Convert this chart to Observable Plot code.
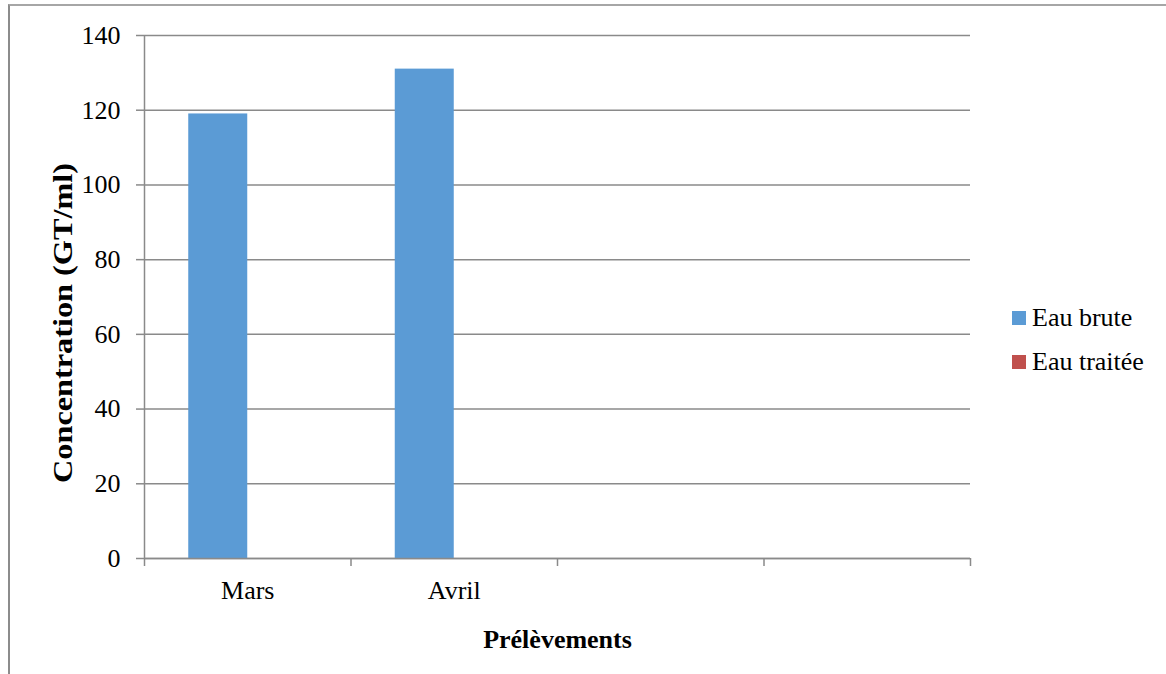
<!DOCTYPE html>
<html>
<head>
<meta charset="utf-8">
<script src="https://cdn.jsdelivr.net/npm/d3@7"></script>
<script src="https://cdn.jsdelivr.net/npm/@observablehq/plot@0.6"></script>
<style>
  html, body { margin: 0; padding: 0; background: #fff; overflow: hidden; }
  #chart { position: relative; width: 1166px; height: 674px; font-family: "Liberation Serif", "Times New Roman", serif; }
  #chart svg { position: absolute; left: 0; top: 0; }
  .border { position: absolute; left: 8px; top: 4px; width: 2000px; height: 2000px;
            border-top: 2px solid #a6a6a6; border-left: 2px solid #8c8c8c; }
  .legend { position: absolute; left: 1012px; top: 296px; font-size: 26px; color: #000; }
  .legend .item { display: flex; align-items: center; height: 44px; }
  .legend .sw { width: 14px; height: 14px; margin-right: 6px; flex: none; }
</style>
</head>
<body>
<div id="chart"><div class="border"></div></div>
<script>
// Monthly samples (the last two are empty slots on the axis)
const categories = ["Mars", "Avril", "", ""];
const series = ["Eau brute", "Eau traitée"];
const eauBrute = [119, 131, null, null];
const eauTraitee = [0, 0, null, null];
const colors = ["#5b9bd5", "#c0504d"];
const yTicks = [0, 20, 40, 60, 80, 100, 120, 140];

const values = [eauBrute, eauTraitee];
const rows = [];
categories.forEach((c, i) => {
  series.forEach((s, k) => {
    if (values[k][i] != null) rows.push({i, series: s, value: values[k][i]});
  });
});

// Side-by-side bars inside each category slot (gap width 150 %)
const inner = d3.scaleBand().domain(series).range([0, 1]).paddingInner(0).paddingOuter(0.75);

const gridColor = "#8a8a8a";

const plot = Plot.plot({
  width: 1166,
  height: 674,
  marginLeft: 144,
  marginRight: 196,
  marginTop: 35,
  marginBottom: 116,
  style: {fontFamily: "'Liberation Serif', 'Times New Roman', serif", fontSize: "26px", background: "transparent", color: "#000"},
  x: {domain: [0, categories.length]},
  y: {domain: [0, 140]},
  color: {domain: series, range: colors},
  marks: [
    Plot.gridY(yTicks, {stroke: gridColor, strokeOpacity: 1, strokeWidth: 1.5}),
    Plot.rect(rows, {
      x1: d => d.i + inner(d.series),
      x2: d => d.i + inner(d.series) + inner.bandwidth(),
      y1: 0,
      y2: "value",
      fill: "series"
    }),
    Plot.ruleX([0], {stroke: gridColor, strokeWidth: 1.5}),
    Plot.ruleY([0], {stroke: gridColor, strokeWidth: 1.5}),
    Plot.axisY(yTicks, {
      tickSize: 8, tickPadding: 16, stroke: gridColor, strokeWidth: 1.5,
      fontSize: 26, tickFormat: d => String(d),
      label: "Concentration (GT/ml)", labelAnchor: "center", labelArrow: "none", labelOffset: 92
    }),
    Plot.axisX(d3.range(0, categories.length + 1), {
      tickSize: 8, stroke: gridColor, strokeWidth: 1.5, tickFormat: () => "", label: null
    }),
    Plot.axisX(categories.map((_, i) => i + 0.5), {
      tickSize: 0, tickPadding: 22, fontSize: 26,
      tickFormat: d => categories[Math.floor(d)],
      label: "Prélèvements", labelAnchor: "center", labelArrow: "none", labelOffset: 89
    })
  ]
});

const svg = d3.select(plot);
svg.selectAll('g[aria-label="x-axis label"] text')
  .attr("font-weight", "bold").attr("font-size", 26);
// Vertical title: stretched along its length and set slightly below the frame centre
const yLabel = svg.select('g[aria-label="y-axis label"]');
yLabel.attr("transform", (yLabel.attr("transform") || "") + " translate(0,26)");
yLabel.selectAll("text")
  .attr("font-weight", "bold").attr("font-size", 27)
  .attr("textLength", 320).attr("lengthAdjust", "spacingAndGlyphs");

const chart = document.getElementById("chart");
chart.appendChild(plot);

// Legend
const legend = document.createElement("div");
legend.className = "legend";
series.forEach((s, k) => {
  const item = document.createElement("div");
  item.className = "item";
  const sw = document.createElement("span");
  sw.className = "sw";
  sw.style.background = colors[k];
  const label = document.createElement("span");
  label.textContent = s;
  item.appendChild(sw);
  item.appendChild(label);
  legend.appendChild(item);
});
chart.appendChild(legend);
</script>
</body>
</html>
